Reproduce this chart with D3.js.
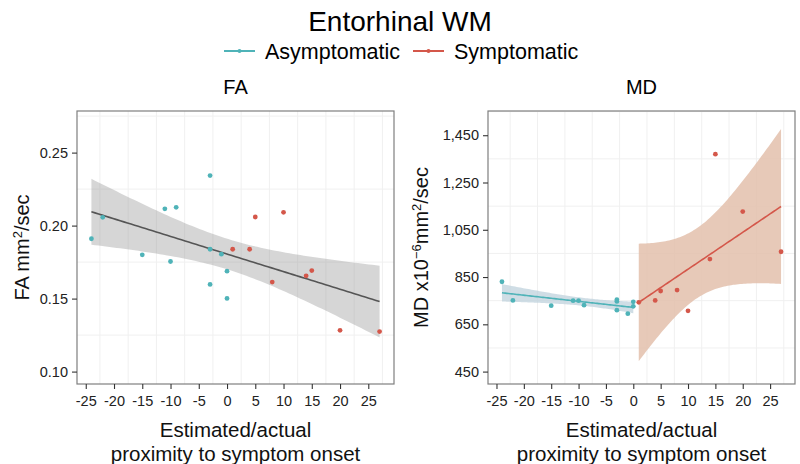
<!DOCTYPE html>
<html><head><meta charset="utf-8">
<script src="https://cdn.jsdelivr.net/npm/d3@7/dist/d3.min.js"></script>
<style>body{margin:0;background:#fff}text{font-family:"Liberation Sans",Arial,sans-serif}</style>
</head><body><svg id="c" width="800" height="464"></svg>
<script>
// ---- data ----
const asymX  = [-24, -22, -15, -11, -10, -9, -3, -3, -3, -1, 0, 0];
const asymFA = [0.191, 0.2057, 0.180, 0.2115, 0.1754, 0.2125, 0.2343, 0.1838, 0.1597, 0.1804, 0.1688, 0.1501];
const asymMD = [830, 751, 729, 750, 750, 731, 754, 747, 710, 695, 745, 726];
const symX   = [1, 4, 5, 8, 10, 14, 15, 20, 27];
const symFA  = [0.1838, 0.1838, 0.2059, 0.1613, 0.2091, 0.1656, 0.1692, 0.1283, 0.1274];
const symMD  = [743, 751, 791, 795, 707, 926, 1370, 1127, 957];
const xTicks = [-25, -20, -15, -10, -5, 0, 5, 10, 15, 20, 25];
const faTicks = [0.10, 0.15, 0.20, 0.25];
const mdTicks = [450, 650, 850, 1050, 1250, 1450];
const groups = ["Asymptomatic", "Symptomatic"];
const colors = {Asymptomatic: "#4fb3b8", Symptomatic: "#d4574a"};

const svg = d3.select("#c");
const W = 800;

// t critical values (two-sided 95%) by df
const tcrit = {7: 2.365, 10: 2.228, 19: 2.093};
function fitBand(xs, ys) {
  const n = xs.length, mx = d3.mean(xs), my = d3.mean(ys);
  let sxx = 0, sxy = 0;
  xs.forEach((x, i) => { sxx += (x - mx) ** 2; sxy += (x - mx) * (ys[i] - my); });
  const b = sxy / sxx, a = my - b * mx;
  let sse = 0; xs.forEach((x, i) => { sse += (ys[i] - a - b * x) ** 2; });
  const s = Math.sqrt(sse / (n - 2)), t = tcrit[n - 2];
  const [lo, hi] = d3.extent(xs);
  return d3.range(0, 81).map(k => {
    const x = lo + (hi - lo) * k / 80, f = a + b * x;
    const se = s * Math.sqrt(1 / n + (x - mx) ** 2 / sxx);
    return {x, f, lo: f - t * se, hi: f + t * se};
  });
}

function panel(o) {
  const g = svg.append("g");
  const x = d3.scaleLinear().domain([-26.55, 29.55]).range([o.x0, o.x1]);
  const y = d3.scaleLinear().domain(o.ydom).range([o.y1, o.y0]);
  // minor grid
  const xm = d3.range(-22.5, 29, 5), ym = o.yminor;
  g.selectAll(".gx").data(xm).join("line").attr("x1", d => x(d)).attr("x2", d => x(d))
    .attr("y1", o.y0).attr("y2", o.y1).attr("stroke", "#f0f0f0").attr("stroke-width", 1);
  g.selectAll(".gy").data(ym).join("line").attr("y1", d => y(d)).attr("y2", d => y(d))
    .attr("x1", o.x0).attr("x2", o.x1).attr("stroke", "#f0f0f0").attr("stroke-width", 1);
  // fits
  o.fits.forEach(fd => {
    const band = fitBand(fd.xs, fd.ys);
    g.append("path").datum(band).attr("fill", fd.fill).attr("opacity", fd.op || 1)
      .attr("d", d3.area().x(d => x(d.x)).y0(d => y(d.lo)).y1(d => y(d.hi)));
    g.append("path").datum(band).attr("fill", "none").attr("stroke", fd.stroke).attr("stroke-width", 1.6)
      .attr("d", d3.line().x(d => x(d.x)).y(d => y(d.f)));
  });
  // points
  o.pts.forEach(p => {
    g.selectAll(null).data(p.xs.map((v, i) => [v, p.ys[i]])).join("circle")
      .attr("cx", d => x(d[0])).attr("cy", d => y(d[1])).attr("r", 2.4).attr("fill", p.color);
  });
  // border
  g.append("rect").attr("x", o.x0).attr("y", o.y0).attr("width", o.x1 - o.x0).attr("height", o.y1 - o.y0)
    .attr("fill", "none").attr("stroke", "#7f7f7f").attr("stroke-width", 1.2);
  // axes
  const xa = g.append("g").attr("transform", `translate(0,${o.y1})`)
    .call(d3.axisBottom(x).tickValues(xTicks).tickSize(5).tickPadding(7).tickFormat(d3.format("d")));
  xa.select(".domain").remove();
  xa.selectAll("line").attr("stroke", "#333").attr("stroke-width", 1.1);
  xa.selectAll("text").attr("font-size", 14.5).attr("fill", "#222").text(d => d < 0 ? "-" + Math.abs(d) : d);
  const ya = g.append("g").attr("transform", `translate(${o.x0},0)`)
    .call(d3.axisLeft(y).tickValues(o.yticks).tickSize(5).tickPadding(4).tickFormat(o.yfmt));
  ya.select(".domain").remove();
  ya.selectAll("line").attr("stroke", "#333").attr("stroke-width", 1.1);
  ya.selectAll("text").attr("font-size", 14.5).attr("fill", "#222");
  // panel title
  g.append("text").attr("x", (o.x0 + o.x1) / 2).attr("y", 94).attr("text-anchor", "middle")
    .attr("font-size", 20).text(o.title);
  // x title
  const xt = g.append("text").attr("text-anchor", "middle").attr("font-size", 20.5).attr("fill", "#111");
  xt.append("tspan").attr("x", (o.x0 + o.x1) / 2).attr("y", 437).text("Estimated/actual");
  xt.append("tspan").attr("x", (o.x0 + o.x1) / 2).attr("y", 461).text("proximity to symptom onset");
  // y title
  const yt = g.append("text").attr("transform", `translate(${o.ylabX},${(o.y0 + o.y1) / 2}) rotate(-90)`)
    .attr("text-anchor", "middle").attr("font-size", 20).attr("fill", "#111");
  o.ylab(yt);
}

panel({
  x0: 77, x1: 394, y0: 111, y1: 384, ydom: [0.0915, 0.2785], yticks: faTicks,
  yminor: [0.125, 0.175, 0.225, 0.275], yfmt: d3.format(".2f"), title: "FA", ylabX: 29,
  fits: [{xs: asymX.concat(symX), ys: asymFA.concat(symFA), fill: "#999999", op: 0.4, stroke: "#555555"}],
  pts: [{xs: asymX, ys: asymFA, color: colors.Asymptomatic}, {xs: symX, ys: symFA, color: colors.Symptomatic}],
  ylab: t => { t.append("tspan").text("FA mm"); t.append("tspan").attr("baseline-shift", "super").attr("font-size", 13).text("2");
               t.append("tspan").text("/sec"); }
});
panel({
  x0: 488, x1: 795, y0: 111, y1: 384, ydom: [397.5, 1552.5], yticks: mdTicks,
  yminor: [550, 750, 950, 1150, 1350, 1550], yfmt: d3.format(","), title: "MD", ylabX: 428,
  fits: [{xs: asymX, ys: asymMD, fill: "#bfd2dc", op: 0.75, stroke: colors.Asymptomatic},
         {xs: symX, ys: symMD, fill: "#e3c0ac", op: 0.85, stroke: colors.Symptomatic}],
  pts: [{xs: asymX, ys: asymMD, color: colors.Asymptomatic}, {xs: symX, ys: symMD, color: colors.Symptomatic}],
  ylab: t => { t.append("tspan").text("MD x10"); t.append("tspan").attr("baseline-shift", "super").attr("font-size", 13).text("−6");
               t.append("tspan").text("mm"); t.append("tspan").attr("baseline-shift", "super").attr("font-size", 13).text("2");
               t.append("tspan").text("/sec"); }
});

// title
svg.append("text").attr("x", W / 2).attr("y", 31).attr("text-anchor", "middle").attr("font-size", 28).text("Entorhinal WM");
// legend
const leg = svg.append("g");
const legX = [224, 413];
groups.forEach((gname, i) => {
  const lx = legX[i];
  leg.append("line").attr("x1", lx).attr("x2", lx + 31).attr("y1", 51).attr("y2", 51)
    .attr("stroke", colors[gname]).attr("stroke-width", 2);
  leg.append("circle").attr("cx", lx + 15.5).attr("cy", 51).attr("r", 2).attr("fill", colors[gname]);
  leg.append("text").attr("x", lx + 41).attr("y", 58.5).attr("font-size", 21.5).text(gname);
});
</script></body></html>
